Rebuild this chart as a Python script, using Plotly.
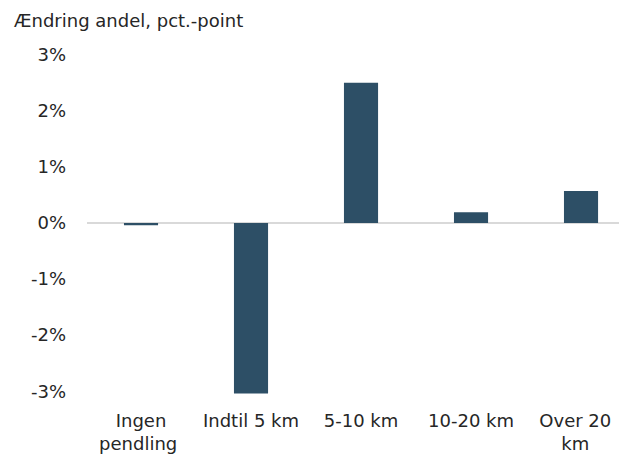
import plotly.graph_objects as go

NB = "\u00a0"
categories = ["Ingen pendling", "Indtil 5 km", "5-10 km", "10-20 km", "Over 20 km"]
values = [-0.0004, -0.0304, 0.0250, 0.0019, 0.0057]
y_ticks = [-0.03, -0.02, -0.01, 0.0, 0.01, 0.02, 0.03]
y_tick_labels = ["-3%", "-2%", "-1%", "0%", "1%", "2%", "3%"]
title_text = "Ændring andel, pct.-point"

# wrapped labels (Excel nudges the last label inward a little)
tick_text = [
    "Ingen<br>pendling" + NB,
    "Indtil 5 km",
    "5-10 km",
    "10-20 km",
    "Over 20" + NB * 2 + "<br>km" + NB * 2,
]

FONT = "DejaVu Sans"
TXT = "#262626"
FS = 18

# page has an 8px body margin, so the figure is sized 619x449
W, H = 619, 449
ML, MT, MB = 79, 44, 63
PW, PH = W - ML, H - MT - MB

fig = go.Figure(
    go.Bar(
        x=categories,
        y=values,
        marker=dict(color="#2d4f66", line=dict(width=0)),
        width=0.31,
    )
)

fig.update_layout(
    width=W,
    height=H,
    margin=dict(l=ML, r=0, t=MT, b=MB, pad=0, autoexpand=False),
    paper_bgcolor="white",
    plot_bgcolor="white",
    showlegend=False,
    font=dict(family=FONT, size=FS, color=TXT),
    annotations=[
        dict(
            text=title_text,
            xref="paper", yref="paper",
            x=(4 - ML) / PW, y=1 + (MT - 12) / PH,
            xanchor="left", yanchor="middle",
            showarrow=False,
            font=dict(family=FONT, size=FS, color=TXT),
        )
    ],
)

fig.update_xaxes(
    type="category",
    range=[-0.491, 4.418],
    tickmode="array",
    tickvals=categories,
    ticktext=tick_text,
    showgrid=False,
    showline=False,
    zeroline=False,
    ticks="",
    automargin=False,
    ticklabelstandoff=14,
    ticklabeloverflow="allow",
    tickfont=dict(family=FONT, size=FS, color=TXT),
)

fig.update_yaxes(
    range=[-0.0305, 0.0305],
    tickmode="array",
    tickvals=y_ticks,
    ticktext=y_tick_labels,
    showgrid=False,
    showline=False,
    zeroline=True,
    zerolinecolor="#d9d9d9",
    zerolinewidth=2,
    ticks="",
    automargin=False,
    ticklabelstandoff=20,
    tickfont=dict(family=FONT, size=FS, color=TXT),
)

fig.write_html("out.html")
